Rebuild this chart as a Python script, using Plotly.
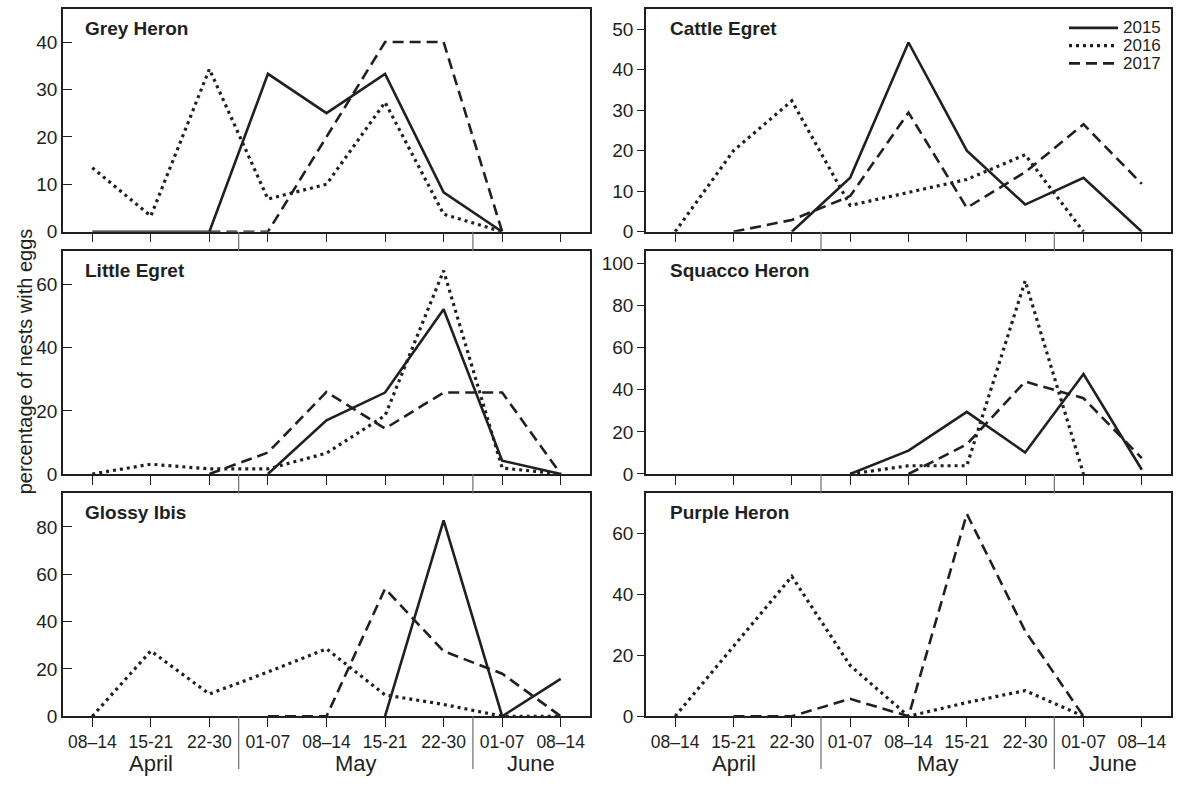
import plotly.graph_objects as go

W, H = 1180, 787
INK = "#231f20"
SEP = "#6d6e71"
SANS = "Liberation Sans, Arial, Helvetica, sans-serif"
NARROW = "Liberation Sans Narrow, Arial Narrow, Liberation Sans, Arial, sans-serif"

# ---- data -------------------------------------------------------------
weeks = ["08–14", "15-21", "22-30", "01-07", "08–14", "15-21", "22-30", "01-07", "08–14"]
months = ["April", "May", "June"]
month_centres = [1, 4.5, 7.5]
month_breaks = [2.5, 6.5]
years = ["2015", "2016", "2017"]

grey_heron_2015 = [0, 0, 0, 33.3, 25, 33.3, 8.3, 0, None]
grey_heron_2016 = [13.5, 3.3, 34.3, 6.9, 10, 27.3, 3.7, 0, None]
grey_heron_2017 = [None, None, 0, 0, 20, 40, 40, 0, None]

cattle_egret_2015 = [None, None, 0, 13.3, 46.7, 20, 6.7, 13.3, 0]
cattle_egret_2016 = [0, 20, 32.3, 6.5, 9.7, 12.9, 19.0, 0, None]
cattle_egret_2017 = [None, 0, 2.9, 8.8, 29.4, 5.9, 14.7, 26.5, 11.8]

little_egret_2015 = [None, None, None, 0, 17, 25.8, 52.2, 4.2, 0]
little_egret_2016 = [0, 3.1, 1.6, 1.6, 6.6, 18.5, 64.4, 1.9, 0]
little_egret_2017 = [None, None, 0, 6.8, 26, 14.4, 25.8, 25.8, 0]

squacco_heron_2015 = [None, None, None, 0, 11.1, 29.5, 10.2, 47.5, 2.0]
squacco_heron_2016 = [None, None, None, 0, 3.9, 3.9, 91.8, 0, None]
squacco_heron_2017 = [None, None, None, None, 0, 14.1, 43.9, 36, 7.5]

glossy_ibis_2015 = [None, None, None, None, None, 0, 82.8, 0, 15.8]
glossy_ibis_2016 = [0, 27.6, 9.4, 18.7, 28.5, 9.0, 5.0, 0, 0]
glossy_ibis_2017 = [None, None, None, 0, 0, 53.9, 27.5, 18, 0]

purple_heron_2015 = [None] * 9
purple_heron_2016 = [0, 23, 45.8, 16.6, 0, 4.5, 8.4, 0, None]
purple_heron_2017 = [None, 0, 0, 5.7, 0, 66.3, 27.9, 0, None]

species = ["Grey Heron", "Cattle Egret", "Little Egret",
           "Squacco Heron", "Glossy Ibis", "Purple Heron"]
series = [
    [grey_heron_2015, grey_heron_2016, grey_heron_2017],
    [cattle_egret_2015, cattle_egret_2016, cattle_egret_2017],
    [little_egret_2015, little_egret_2016, little_egret_2017],
    [squacco_heron_2015, squacco_heron_2016, squacco_heron_2017],
    [glossy_ibis_2015, glossy_ibis_2016, glossy_ibis_2017],
    [purple_heron_2015, purple_heron_2016, purple_heron_2017],
]
y_max = [47, 55, 70.6, 105.9, 94.2, 73]
y_ticks = [
    [0, 10, 20, 30, 40],
    [0, 10, 20, 30, 40, 50],
    [0, 20, 40, 60],
    [0, 20, 40, 60, 80, 100],
    [0, 20, 40, 60, 80],
    [0, 20, 40, 60],
]

# ---- styling ----------------------------------------------------------
line_style = {
    "2015": dict(color=INK, width=2.6, dash="solid"),
    "2016": dict(color=INK, width=3.2, dash="3px,4px"),
    "2017": dict(color=INK, width=2.6, dash="11px,6px"),
}

# panel boxes in pixels
col_px = [(63, 590), (646, 1171)]
row_px = [(9, 235), (254.7, 480.7), (500.4, 726.4)]


def px_x(v):
    return v / W


def px_y(v):
    return 1 - v / H


fig = go.Figure()
layout = dict(
    width=W, height=H,
    margin=dict(l=0, r=0, t=0, b=0),
    paper_bgcolor="white", plot_bgcolor="white",
    showlegend=False,
    font=dict(family=SANS, color=INK),
)
annotations = []
shapes = []

for i, name in enumerate(species):
    r, c = divmod(i, 2)
    xs = "" if i == 0 else str(i + 1)
    x0, x1 = col_px[c]
    y0, y1 = row_px[r]

    for yr, vals in zip(years, series[i]):
        if all(v is None for v in vals):
            continue
        fig.add_trace(go.Scatter(
            x=list(range(len(weeks))), y=vals, mode="lines",
            line=line_style[yr], name=yr, connectgaps=False,
            cliponaxis=False, hoverinfo="skip",
            xaxis="x" + xs, yaxis="y" + xs,
        ))

    layout["xaxis" + xs] = dict(
        domain=[px_x(x0), px_x(x1)], anchor="y" + xs,
        range=[-0.5, len(weeks) - 0.5],
        tickmode="array", tickvals=list(range(len(weeks))), ticktext=weeks,
        showticklabels=(r == 2),
        ticks="outside", ticklen=9, tickwidth=1.3, tickcolor=INK,
        showline=True, mirror=True, linecolor=INK, linewidth=1.5,
        showgrid=False, zeroline=False,
        tickfont=dict(family=NARROW, size=17.5, color=INK),
    )
    layout["yaxis" + xs] = dict(
        domain=[px_y(y1), px_y(y0)], anchor="x" + xs,
        range=[0, y_max[i]],
        tickmode="array", tickvals=y_ticks[i],
        ticks="inside" if c == 0 else "outside",
        ticklen=9 if c == 0 else 7, tickwidth=1.3, tickcolor=INK,
        showline=True, mirror=True, linecolor=INK, linewidth=1.5,
        showgrid=False, zeroline=False,
        tickfont=dict(family=SANS, size=19, color=INK),
    )

    # species name inside the panel
    annotations.append(dict(
        text=name, xref="paper", yref="paper",
        x=px_x(x0 + 20 + (1.5 if c else 0)), y=px_y(y0 + 19.4),
        xanchor="left", yanchor="middle", showarrow=False,
        font=dict(family=SANS, size=19, color=INK, weight="bold"),
    ))

    # month separators below each panel
    bottom_end = row_px[r + 1][0] if r < 2 else 780
    for b in month_breaks:
        shapes.append(dict(
            type="line", xref="x" + xs, yref="paper",
            x0=b, x1=b, y0=px_y(y1), y1=px_y(bottom_end),
            line=dict(color=SEP, width=1.2),
        ))
    if r == 2:
        for m, mc in zip(months, month_centres):
            annotations.append(dict(
                text=m, xref="x" + xs, yref="paper",
                x=mc, y=px_y(774), xanchor="center", yanchor="middle",
                showarrow=False,
                font=dict(family=NARROW, size=22, color=INK),
            ))

# legend drawn in the Cattle Egret panel
leg_x0, leg_x1, leg_text = 1069, 1118, 1122
for k, yr in enumerate(years):
    yy = 28.3 + 18 * k
    st = line_style[yr]
    shapes.append(dict(
        type="line", xref="paper", yref="paper",
        x0=px_x(leg_x0), x1=px_x(leg_x1), y0=px_y(yy), y1=px_y(yy),
        line=dict(color=st["color"], width=st["width"], dash=st["dash"]),
    ))
    annotations.append(dict(
        text=yr, xref="paper", yref="paper",
        x=px_x(leg_text), y=px_y(yy), xanchor="left", yanchor="middle",
        showarrow=False, borderpad=0,
        font=dict(family=NARROW, size=17, color=INK),
    ))

# shared y-axis title
annotations.append(dict(
    text="percentage of nests with eggs", xref="paper", yref="paper",
    x=px_x(24.5), y=px_y(367), xanchor="center", yanchor="middle",
    textangle=-90, showarrow=False,
    font=dict(family=SANS, size=20, color=INK),
))

layout["annotations"] = annotations
layout["shapes"] = shapes
fig.update_layout(**layout)
fig.write_html("out.html")
